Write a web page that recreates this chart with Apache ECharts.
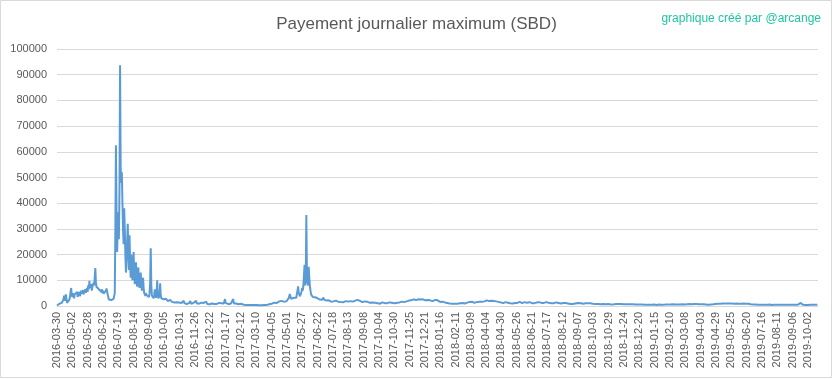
<!DOCTYPE html>
<html>
<head>
<meta charset="utf-8">
<script src="https://cdn.jsdelivr.net/npm/echarts@6/dist/echarts.min.js"></script>
<style>
html,body{margin:0;padding:0;background:#fff;}
#chart{width:833px;height:379px;}
</style>
</head>
<body>
<div id="chart"></div>
<script>
// Title texts
var chartTitle = 'Payement journalier maximum (SBD)';
var creditText = 'graphique créé par @arcange';

// Category dates: first date, then a continuous daily run
var firstDate = '2016-03-30';
var runStart = '2016-04-07';

// Y axis ticks
var yMin = 0, yMax = 100000, yStep = 10000;

// Daily max payout values (SBD)
var vals2016a = [
 200, 500, 600, 400, 900, 1500, 800, 600, 1200, 700,
 1500, 2500, 4000, 2000, 1500, 4500, 3000, 1200, 800, 900,
 1500, 2500, 3500, 5500, 7000, 4500, 3500, 5000, 4000, 3000,
 4500, 5000, 3800, 4200, 5500, 3500, 4500, 4000, 5500, 3800,
 4200, 6000, 4800, 5000, 6200, 4500, 5500, 5000, 6500, 5200,
 6000, 7000, 5500, 8000, 6500, 9800, 7000, 6500, 8500, 6000,
 7500, 7000, 9000, 8000, 11000, 14800, 9000, 7500, 8200, 7000,
 7800, 6500, 7200, 6000, 7000, 5500, 6500, 5000, 6000, 4800,
 5500, 4500, 5200, 6000, 6800, 6200, 4500, 3500, 2500, 2800,
 2200, 2600, 2300, 2500, 2700, 2400, 2800, 3000, 5000
];
var vals2016b = [
 30000, 62500, 36000, 21000, 30000, 36500, 26000, 45000, 93700, 54000,
 48000, 52000, 40500, 30000, 24000, 38000, 30000, 20000, 13000, 18000,
 25000, 32000, 22000, 14000, 27500, 18000, 11000, 20000, 15000, 10000,
 16000, 21000, 12000, 8500, 14000, 17000, 10000, 7500, 12000, 15000,
 9000, 7000, 10000, 13000, 8500, 6000, 9000, 11000, 7000, 5000,
 4500, 4000, 5000, 4200, 3800, 4500, 4000, 3500, 5000, 9000,
 22500, 8000, 4000, 3500, 4000, 3000, 4500, 6500, 4000, 3200,
 5000, 10000, 4500, 3000, 2800, 4000, 8800, 4000, 3000, 3500,
 2800, 3000
];
var vals2016c = [
 2600, 3200, 2400, 2200, 2800, 2100, 2500, 1900, 2300, 2000, 1800, 2400, 1700, 1900, 1600, 2100, 1500, 1800, 1400, 1600,
 1300, 1100, 1500, 1000, 1200, 900, 1400, 1100, 1800, 1000, 1200, 900, 1100, 1300, 2000, 1100, 900, 1000, 1200, 800,
 1000, 1400, 900, 1100, 1000, 1900, 1200, 800, 1000, 1100, 900, 1300, 1000, 800, 1500, 2000, 1100, 900, 1000, 1200,
 900, 1100, 800, 1000, 1300, 900, 700, 1000, 1200, 800, 900, 1100, 1700, 1000, 800, 900, 1200, 1000, 700, 900,
 1100, 800, 1000, 900, 1400, 1000, 800, 700, 900, 1100, 800, 1000, 900, 700, 1200, 1000, 800, 900, 1100, 800,
 900, 1200, 1000, 1600, 2700, 1200, 900, 800, 1000, 900, 700, 1100, 800, 900, 1000, 800, 1300, 1500, 2700, 1000,
 800, 900, 700, 1000, 800, 600, 900, 700, 800, 600, 700, 900, 600, 500, 700, 600, 500, 800, 600, 500,
 400, 600, 500, 400, 500, 350, 450, 400, 300, 400, 350, 500, 300, 400, 350, 300, 450, 300, 350, 400,
 300, 350, 250, 400, 300, 350, 300, 250, 400, 300, 350, 300, 400, 450, 350, 500, 400, 600, 500, 700,
 600, 800, 700, 900, 1000, 800, 1100, 1000, 1300, 1200
];
var vals2017a = [
 1100, 1400, 1200, 1600, 1300, 1500, 1800, 1400, 1700, 1500, 2000, 1600, 1800, 2200, 1700, 1900, 1600, 2100, 1800, 2300,
 1500, 2300, 3000, 3600, 4700, 3800, 2800, 2300, 3000, 2500,
 2600, 3200, 2800, 3500, 2900, 3200, 4800, 6000, 7600, 5200,
 4500, 3800, 4200, 4800, 5500, 7000, 6000, 8000, 12000, 16000,
 8000, 10000, 35400, 12000, 9000, 8000, 15300, 11000, 8000, 6000,
 4500, 5000, 4000, 3500, 3200, 3800, 3000, 3400, 2800, 3300,
 3800, 3000, 2600, 3200, 2800, 2500, 2800, 3200, 2600, 2400, 2900, 3300, 2500, 2200, 2400, 2800, 2100, 2000, 2300, 1900
];
var vals2017b = [
 2200, 1800, 2000, 2300, 1700, 1900, 2100, 1600, 1800, 2000, 1500, 1700, 2100, 1800, 1600, 1900, 1700, 2000, 1500, 1800,
 1600, 1900, 2200, 1700, 1800, 1500, 2000, 1700, 1600, 1900, 2100, 1800, 1500, 1700, 2000, 2200, 1700, 1900, 1600, 1800,
 2000, 1700, 1500, 1800, 1600, 2100, 1900, 2300, 2000, 2400, 2700, 2100, 1800, 2000, 1700, 1600, 1900, 1500, 1700, 1600,
 1400, 1800, 1600, 1300, 1500, 1700, 1400, 1200, 1500, 1300, 1600, 1400, 1200, 1100, 1400, 1300, 1000, 1200, 1100, 1300,
 1000, 1200, 900, 1100, 1000, 1300, 1100, 900, 1200, 1000, 1100, 1400, 1200, 1000, 1300, 1100, 1500, 1200, 1400, 1100,
 1300, 1200, 1000, 1400, 1200, 1100, 1500, 1300, 1200, 1600, 1400, 1300, 1100, 1500, 1400, 1700, 1300, 1500, 1200, 1600,
 1400, 1800, 1500, 1300, 1700, 1600, 1400, 1900, 1500, 1700, 1600, 2000, 1800, 2200, 1700, 1900, 2100, 1800, 2400, 2000,
 2200, 2500, 2100, 2300, 2600, 2200, 2400, 2800, 2300, 2500, 2700, 3000, 2600, 2800, 3200, 2900, 2500, 2700, 3000, 2400,
 2600, 2900, 2300, 2500, 2200, 2700, 2400, 2100, 2300, 2600, 2000, 2400, 2200, 2500, 2100, 2300, 1900, 2200, 2400, 2000,
 2300, 2100, 1800, 2000, 2300, 1900, 2100, 1700, 1800, 1600, 1900, 1500, 1400, 1700, 1300, 1500, 1200, 1400, 1100, 1300,
 1000, 1200, 900, 1100, 800, 1000, 900, 1200, 800, 700, 900, 1000, 800, 700, 900, 800, 1000, 700, 900, 800,
 700, 900, 800, 1100, 900, 800, 1000, 1200, 900, 1100, 1300, 1000, 1200, 1500, 1100, 1300, 1000, 1400, 1200, 1600,
 1300, 1500, 1200, 1700, 1400, 1300, 1600, 1200, 1500, 1100, 1400, 1300, 1600, 1200, 1500, 1300, 1700, 1400, 1800, 1500,
 1700, 1600, 1900, 1500, 1800, 2100, 1700, 1900, 2200, 1800, 2000, 2400, 1900, 2300, 2100, 2500, 2000, 2200, 1800, 2100,
 1900, 1700, 2000, 1600, 1800, 1500, 1700, 1400, 1600, 1300, 1500, 1700, 1400, 1200, 1500, 1300, 1100, 1400, 1200, 1300,
 1500, 1200, 1400, 1100, 1300, 1600, 1200, 1400, 1100, 1300, 1500, 1200, 1000, 1300, 1100, 1400, 1200, 1000, 1300, 1500,
 1200, 1400, 1100, 1300, 1600, 1200, 1500, 1300, 1100, 1400, 1700, 1300, 1500, 1200, 1400, 1100, 1300, 1600, 1200, 1400,
 1300, 1500, 1200, 1000, 1400, 1100, 1300, 1200, 1500, 1100, 1300, 1000, 1200, 1400, 1100, 1300, 1200, 1500, 1300, 1100,
 1400, 1200, 1600, 1300, 1500, 1200, 1400, 1700, 1300, 1500, 1200, 1400, 1100, 1300, 1600, 1200, 1400, 1300, 1100, 1300,
 1200, 1500, 1100, 1300, 1000, 1200, 1400, 1100, 1300, 1000, 1200, 1100, 900, 1200, 1000, 1100, 1300, 1000, 1200, 900,
 1100, 1000, 1200, 900, 1100, 800, 1000, 1200, 900, 1000, 800, 1100, 900, 1000, 800, 900, 1100, 800, 1000, 900,
 800, 1000, 900, 1200, 900, 800, 1000, 900, 1100, 800
];
var vals2018 = [
 1000, 1100, 900, 1200, 1000, 1300, 1100, 1000, 1200, 900, 1100, 1000, 1200, 1300, 1100, 1000, 1200, 1100, 900, 1000,
 1100, 900, 1000, 800, 1000, 900, 1100, 800, 900, 1000, 800, 900, 700, 900, 800, 1000, 800, 700, 900, 800,
 700, 800, 600, 700, 800, 700, 600, 800, 700, 600, 700, 800, 600, 700, 650, 750, 600, 700, 800, 650,
 700, 600, 750, 650, 700, 600, 800, 650, 700, 600, 650, 750, 600, 700, 650, 600, 700, 550, 650, 600,
 700, 600, 650, 550, 700, 600, 650, 550, 600, 700, 550, 650, 600, 500, 600, 550, 650, 500, 600, 550,
 600, 500, 550, 600, 500, 550, 450, 550, 500, 600,
 500, 450, 550, 500, 450, 500, 550, 450, 500, 400, 500, 450, 550, 500, 450, 500, 400, 500, 450, 500,
 550, 450, 500, 400, 450, 500, 550, 450, 500, 550, 600, 500, 550, 600, 500, 650, 550, 600, 650, 550,
 600, 700, 600, 650, 700, 600, 650, 750, 600, 700, 650, 700, 600, 750, 650, 700, 600, 650, 700, 600
];
var vals2019 = [
 700, 650, 750, 700, 600, 700, 750, 650, 700, 800, 650, 700, 750, 650, 700, 600, 700, 750, 650, 700,
 750, 700, 650, 700, 800, 700, 650, 750, 700, 650, 700, 750, 650, 700, 600, 650, 700, 600, 650, 550,
 600, 650, 550, 600, 500, 600, 550, 500, 600, 550, 500, 600, 650, 700, 650, 750, 800, 700, 850, 800,
 900, 850, 950, 1000, 900, 1000, 950, 1100, 950, 1000, 900, 1050, 950, 1000, 1100, 950, 1000, 900, 1050, 1000,
 950, 1100, 1000, 900, 1000, 1050, 950, 1000, 900, 950, 1000, 1100, 950, 900, 1000, 950, 900, 1000, 850, 950,
 900, 1000, 850, 900, 950, 850, 900, 800, 900, 850, 800, 750, 850, 700, 800, 700, 650, 700, 600, 650,
 600, 550, 600, 500, 550, 600, 500, 550, 450, 500, 550, 500, 450, 550, 500, 450, 500, 550, 450, 500,
 450, 500, 550, 450, 500, 400, 500, 450, 550, 500, 450, 500, 400, 450, 500, 550, 450, 500, 450, 400,
 500, 450, 550, 500, 450, 500, 400, 450, 500, 450, 550, 500, 450, 400, 500, 450, 500, 550, 450, 500,
 450, 500, 400, 450, 500, 550, 500, 500, 450, 500, 400, 450, 500, 450, 550, 500, 450, 500, 400, 450,
 1200, 450, 400, 450, 500, 450, 550, 500, 450, 400, 450, 500, 450, 400, 500, 450, 400, 450, 500, 450,
 400, 450, 500, 450, 400, 450, 500, 400, 450, 500, 450
];

var values = [].concat(vals2016a, vals2016b, vals2016c, vals2017a, vals2017b, vals2018, vals2019);

// build date categories
function fmt(d){
  var m = d.getUTCMonth()+1, day = d.getUTCDate();
  return d.getUTCFullYear() + '-' + (m<10?'0':'') + m + '-' + (day<10?'0':'') + day;
}
var categories = [firstDate];
var d0 = new Date(runStart + 'T00:00:00Z');
for (var i = 1; i < values.length; i++) {
  categories.push(fmt(d0));
  d0 = new Date(d0.getTime() + 86400000);
}

var chart = echarts.init(document.getElementById('chart'), null, {renderer: 'canvas'});
chart.setOption({
  animation: false,
  backgroundColor: '#ffffff',
  title: [{
    text: chartTitle,
    left: 'center',
    top: 11,
    textStyle: {fontFamily: 'Liberation Sans', fontSize: 17, fontWeight: 'normal', color: '#595959'}
  }, {
    text: creditText,
    right: 7,
    top: 8,
    textStyle: {fontFamily: 'Liberation Sans', fontSize: 12, fontWeight: 'normal', color: '#1fc4a4'}
  }],
  graphic: [{
    type: 'rect',
    shape: {x: 0.5, y: 0.5, width: 831, height: 377},
    style: {fill: 'none', stroke: '#d9d9d9', lineWidth: 1},
    silent: true
  }],
  grid: {left: 57, right: 15, top: 49, bottom: 73, containLabel: false},
  xAxis: {
    type: 'category',
    data: categories,
    boundaryGap: false,
    axisLine: {show: true, lineStyle: {color: '#d9d9d9', width: 1}},
    axisTick: {show: false},
    axisLabel: {
      interval: 25,
      rotate: 90,
      margin: 6,
      fontFamily: 'Liberation Sans',
      fontSize: 11,
      color: '#595959'
    },
    splitLine: {show: false}
  },
  yAxis: {
    type: 'value',
    min: yMin,
    max: yMax,
    interval: yStep,
    axisLine: {show: false},
    axisTick: {show: false},
    axisLabel: {
      fontFamily: 'Liberation Sans', fontSize: 11, color: '#595959', margin: 10,
      formatter: function (v) { return String(v); }
    },
    splitLine: {show: true, lineStyle: {color: '#d9d9d9', width: 1}}
  },
  series: [{
    type: 'line',
    data: values,
    showSymbol: false,
    symbol: 'none',
    sampling: null,
    lineStyle: {color: '#5b9bd5', width: 2},
    itemStyle: {color: '#5b9bd5'}
  }]
});
</script>
</body>
</html>
